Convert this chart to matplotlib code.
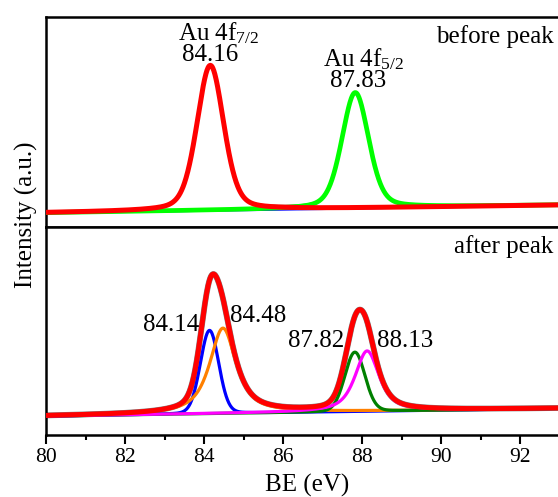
import numpy as np
import matplotlib
matplotlib.use("Agg")
import matplotlib.pyplot as plt
from matplotlib.ticker import MultipleLocator

plt.rcParams['font.family'] = ['Liberation Serif', 'DejaVu Serif']
plt.rcParams['mathtext.fontset'] = 'custom'
plt.rcParams['mathtext.rm'] = 'Liberation Serif'
plt.rcParams['mathtext.it'] = 'Liberation Serif:italic'

# ---------------- data ----------------
x_range = [80, 93]
xtick_values = [80, 82, 84, 86, 88, 90, 92]

# top panel ("before peak"): fitted components, normalised intensity
top_centers = [84.16, 87.83]
top_heights = [0.69, 0.55]
top_fwhm = [0.80, 0.80]
top_eta = [0.30, 0.30]
top_baseline_ends = [0.068, 0.105]   # baseline at x=80 and x=93
top_colors = ['#FF0000', '#00FF00']

# bottom panel ("after peak")
bot_centers = [84.14, 84.48, 87.82, 88.13]
bot_heights = [0.40, 0.41, 0.285, 0.29]
bot_fwhm = [0.55, 0.80, 0.60, 0.72]
bot_eta = [0.10, 0.80, 0.10, 0.70]
bot_baseline_ends = [0.091, 0.128]
bot_colors = ['#0000FF', '#FF8000', '#008000', '#FF00FF']
bot_labels = ['84.14', '84.48', '87.82', '88.13']


def pseudo_voigt(x, c, h, w, eta):
    g = np.exp(-4 * np.log(2) * ((x - c) / w) ** 2)
    lo = 1.0 / (1.0 + 4 * ((x - c) / w) ** 2)
    return h * (eta * lo + (1 - eta) * g)


xs = np.linspace(x_range[0], x_range[1], 1500)

W, H = 558, 497
fig = plt.figure(figsize=(W / 100, H / 100), dpi=100)

left_px, x0_px, px_per_unit = 46, 46, 39.5
ax_w = (x_range[1] - x_range[0]) * px_per_unit / W
ax_top = fig.add_axes([left_px / W, (H - 227) / H, ax_w, (227 - 17) / H])
ax_bot = fig.add_axes([left_px / W, (H - 435) / H, ax_w, (435 - 227) / H])

for ax in (ax_top, ax_bot):
    ax.set_xlim(*x_range)
    ax.set_ylim(0, 1)
    ax.spines['right'].set_visible(False)
    for s in ('left', 'top', 'bottom'):
        ax.spines[s].set_linewidth(1.8)
    ax.set_yticks([])

# ---- top panel ----
base_t = np.interp(xs, x_range, top_baseline_ends)
comps_t = [pseudo_voigt(xs, c, h, w, e) for c, h, w, e in
           zip(top_centers, top_heights, top_fwhm, top_eta)]
env_t = base_t + sum(comps_t)
ax_top.plot(xs, env_t, color='#FF8000', lw=1.0, zorder=1)
ax_top.plot(xs, env_t, color='#808080', lw=1.2, zorder=2)
ax_top.plot(xs, base_t, color='#0000FF', lw=2.2, zorder=3)
ax_top.plot(xs, base_t + comps_t[1], color=top_colors[1], lw=3.4, zorder=4)
ax_top.plot(xs, base_t + comps_t[0], color=top_colors[0], lw=3.6, zorder=5)
ax_top.set_xticks([])

ax_top.text(84.38, 0.89, 'Au 4f$_{\\mathrm{7/2}}$', fontsize=18, ha='center', va='baseline')
ax_top.text(84.15, 0.79, '84.16', fontsize=18, ha='center', va='baseline')
ax_top.text(88.05, 0.763, 'Au 4f$_{\\mathrm{5/2}}$', fontsize=18, ha='center', va='baseline')
ax_top.text(87.91, 0.665, '87.83', fontsize=18, ha='center', va='baseline')
ax_top.text(92.84, 0.875, 'before peak', fontsize=18, ha='right', va='baseline')

# ---- bottom panel ----
base_b = np.interp(xs, x_range, bot_baseline_ends)
comps_b = [pseudo_voigt(xs, c, h, w, e) for c, h, w, e in
           zip(bot_centers, bot_heights, bot_fwhm, bot_eta)]
env_b = base_b + sum(comps_b)
ax_bot.plot(xs, env_b, color='#808080', lw=4.2, zorder=1)
for i, (comp, col) in enumerate(zip(comps_b, bot_colors)):
    ax_bot.plot(xs, base_b + comp, color=col, lw=2.3, zorder=2 + i)
ax_bot.plot(xs, env_b, color='#FF0000', lw=3.6, zorder=7)

lab_pos = [(83.16, 0.50), (85.38, 0.542), (86.84, 0.425), (89.09, 0.425)]
for lab, (lx, ly) in zip(bot_labels, lab_pos):
    ax_bot.text(lx, ly, lab, fontsize=18, ha='center', va='baseline')
ax_bot.text(92.84, 0.874, 'after peak', fontsize=18, ha='right', va='baseline')

ax_bot.set_xticks(xtick_values)
ax_bot.set_xticklabels([str(v) for v in xtick_values], fontsize=15.5)
ax_bot.xaxis.set_minor_locator(MultipleLocator(1))
ax_bot.tick_params(axis='x', which='major', direction='out', length=6.5, width=1.5, pad=2.5)
ax_bot.tick_params(axis='x', which='minor', direction='out', length=3.6, width=1.5)
ax_bot.tick_params(axis='x', which='both', top=False)

fig.text(307 / W, (H - 485) / H, 'BE (eV)', fontsize=18, ha='center', va='center')
fig.text(26 / W, (H - 215) / H, 'Intensity (a.u.)', fontsize=18, ha='center', va='center',
         rotation=90)

fig.savefig('out.png', dpi=100)
